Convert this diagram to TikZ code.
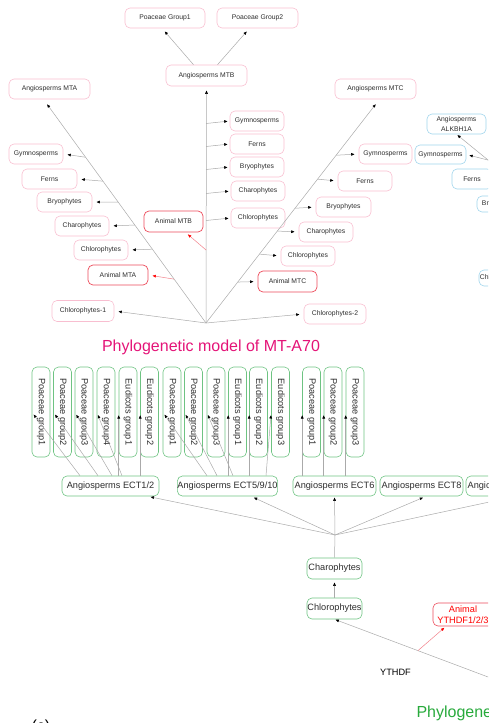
\documentclass[tikz,border=0pt]{standalone}
\usepackage{fontspec}
\setmainfont{Liberation Sans}
\usetikzlibrary{arrows.meta}
\usetikzlibrary{calc}
\definecolor{boxpink}{RGB}{248,190,208}
\definecolor{boxred}{RGB}{236,75,90}
\definecolor{boxblue}{RGB}{160,212,236}
\definecolor{boxgreen}{RGB}{110,195,130}
\definecolor{linegray}{RGB}{170,170,170}
\definecolor{textgray}{RGB}{45,45,45}
\definecolor{titlepink}{RGB}{228,20,120}
\definecolor{titlegreen}{RGB}{40,170,60}

\begin{document}
\begin{tikzpicture}[x=1pt, y=-1pt, line join=round,
  mtbox/.style={draw=boxpink, line width=0.6pt, rounded corners=5pt, minimum height=20pt, inner sep=0pt,
    text=textgray, font=\fontsize{6.8}{8}\selectfont},
  animbox/.style={mtbox, draw=boxred, line width=0.7pt},
  alkbox/.style={mtbox, draw=boxblue},
  ectbox/.style={draw=boxgreen, line width=0.6pt, rounded corners=5pt, minimum height=20pt, inner sep=0pt,
    text=textgray, font=\fontsize{9.2}{10.5}\selectfont},
  leafbox/.style={ectbox, rotate=-90, minimum width=90pt, minimum height=18pt},
  link/.style={draw=linegray, line width=0.5pt, shorten >=4pt,
    -{Latex[length=3.5pt,width=3pt,color=black]}},
  redlink/.style={link, draw=boxred!70, -{Latex[length=3.5pt,width=3pt,color=red]}},
  plain/.style={draw=linegray, line width=0.5pt},
  title/.style={font=\fontsize{16}{19}\selectfont}]
  \useasboundingbox (0,0) rectangle (488,723);
  \clip (0,0) rectangle (488,723);

  % MT-A70
  \node[mtbox, minimum width=80pt] (pg1) at (165,18) {Poaceae Group1};
  \node[mtbox, minimum width=81pt] (pg2) at (257.5,18) {Poaceae Group2};
  \node[mtbox, minimum width=81pt, minimum height=21pt] (mtb) at (206.5,75.5) {Angiosperms MTB};
  \node[mtbox, minimum width=81pt] (mta) at (49.5,89) {Angiosperms MTA};
  \node[mtbox, minimum width=81pt] (mtc) at (375.5,89) {Angiosperms MTC};

  \node[mtbox, minimum width=54pt] (gymA) at (36,154) {Gymnosperms};
  \node[mtbox, minimum width=55pt] (fernsA) at (49.5,179) {Ferns};
  \node[mtbox, minimum width=55pt] (bryoA) at (64.5,202) {Bryophytes};
  \node[mtbox, minimum width=54pt] (charoA) at (82,226) {Charophytes};
  \node[mtbox, minimum width=54pt] (chloA) at (101,250) {Chlorophytes};
  \node[animbox, minimum width=60pt] (animA) at (118,275) {Animal MTA};
  \node[mtbox, minimum width=62pt, minimum height=21pt] (chl1) at (83,311) {Chlorophytes-1};

  \node[mtbox, minimum width=54pt] (gymB) at (257,121) {Gymnosperms};
  \node[mtbox, minimum width=54pt] (fernsB) at (257,144) {Ferns};
  \node[mtbox, minimum width=54pt] (bryoB) at (257,167) {Bryophytes};
  \node[mtbox, minimum width=54pt] (charoB) at (258,191) {Charophytes};
  \node[mtbox, minimum width=54pt] (chloB) at (258,218) {Chlorophytes};
  \node[animbox, minimum width=59pt, minimum height=21pt] (animB) at (173.5,221.5) {Animal MTB};

  \node[mtbox, minimum width=53pt] (gymC) at (385.5,154) {Gymnosperms};
  \node[mtbox, minimum width=54pt] (fernsC) at (365,181) {Ferns};
  \node[mtbox, minimum width=55pt] (bryoC) at (343.5,207) {Bryophytes};
  \node[mtbox, minimum width=54pt] (charoC) at (326,232) {Charophytes};
  \node[mtbox, minimum width=54pt] (chloC) at (308,256) {Chlorophytes};
  \node[animbox, minimum width=59pt, minimum height=21pt] (animC) at (287.5,281.5) {Animal MTC};
  \node[mtbox, minimum width=62pt] (chl2) at (335,314) {Chlorophytes-2};

  \coordinate (mtroot) at (206,323);
  \coordinate (mtaend) at ([xshift=-6pt]mta.south);
  \coordinate (mtcend) at ([xshift=4pt]mtc.south);
  \draw[link] (mtroot) -- (mtb.south);
  \draw[link, shorten >=6pt] (mtroot) -- (mtaend);
  \draw[link, shorten >=6pt] (mtroot) -- (mtcend);
  \draw[link] ([xshift=-13pt]mtb.north) -- ([xshift=-3pt]pg1.south);
  \draw[link] ([xshift=11pt]mtb.north) -- ([xshift=-8pt]pg2.south);

  \draw[link] ($(mtroot)!0.741!(mtaend)$) -- (gymA.east);
  \draw[link] ($(mtroot)!0.634!(mtaend)$) -- (fernsA.east);
  \draw[link] ($(mtroot)!0.540!(mtaend)$) -- (bryoA.east);
  \draw[link] ($(mtroot)!0.438!(mtaend)$) -- (charoA.east);
  \draw[link] ($(mtroot)!0.330!(mtaend)$) -- (chloA.east);
  \draw[redlink] ($(mtroot)!0.196!(mtaend)$) -- (animA.east);
  \draw[link] (mtroot) -- (chl1.east);

  \draw[link, shorten >=2pt] ($(mtroot |- gymB.west)+(0,2.5)$) -- (gymB.west);
  \draw[link, shorten >=2pt] ($(mtroot |- fernsB.west)+(0,2.5)$) -- (fernsB.west);
  \draw[link, shorten >=2pt] ($(mtroot |- bryoB.west)+(0,2.5)$) -- (bryoB.west);
  \draw[link, shorten >=2pt] ($(mtroot |- charoB.west)+(0,2.5)$) -- (charoB.west);
  \draw[link, shorten >=2pt] ($(mtroot |- chloB.west)+(0,2.5)$) -- (chloB.west);
  \draw[redlink, shorten >=3pt] ($(mtroot)!0.308!(mtb.south)$) -- ([xshift=12pt]animB.south);

  \draw[link] ($(mtroot)!0.750!(mtcend)$) -- (gymC.west);
  \draw[link] ($(mtroot)!0.643!(mtcend)$) -- (fernsC.west);
  \draw[link] ($(mtroot)!0.513!(mtcend)$) -- (bryoC.west);
  \draw[link] ($(mtroot)!0.411!(mtcend)$) -- (charoC.west);
  \draw[link] ($(mtroot)!0.308!(mtcend)$) -- (chloC.west);
  \draw[link] ($(mtroot)!0.183!(mtcend)$) -- (animC.west);
  \draw[link] (mtroot) -- (chl2.west);

  % ALKBH1 (cut at the right edge)
  \node[alkbox, minimum width=59pt, align=center, font=\fontsize{6.8}{10}\selectfont] (alk) at (456.5,124) {Angiosperms\\ALKBH1A};
  \node[alkbox, minimum width=51pt, minimum height=19pt] (gymblue) at (440.5,154.5) {Gymnosperms};
  \node[alkbox, minimum width=40pt] (fernsblue) at (472,179) {Ferns};
  \node[alkbox, minimum width=44pt, minimum height=16pt] (bryoblue) at (499,204) {Bryophytes};
  \node[alkbox, minimum width=42pt, minimum height=16pt] (chloblue) at (500,278) {Chlorophytes};
  \coordinate (alkroot) at (580,235);
  \draw[link, shorten >=1pt] (alkroot) -- (alk.south);
  \draw[link, shorten >=3pt] ($(alkroot)!0.744!(alk.south)$) -- (gymblue.east);

  \node[title, text=titlepink] (mttitle) at (211,347.5) {Phylogenetic model of MT-A70};

  % YTHDF
  \node[leafbox] (l1) at (41,412) {Poaceae group1};
  \node[leafbox] (l2) at (62.5,412) {Poaceae group2};
  \node[leafbox] (l3) at (84,412) {Poaceae group3};
  \node[leafbox] (l4) at (106,412) {Poaceae group4};
  \node[leafbox] (l5) at (128,412) {Eudicots group1};
  \node[leafbox] (l6) at (149.5,412) {Eudicots group2};
  \node[leafbox] (l7) at (172,412) {Poaceae group1};
  \node[leafbox] (l8) at (193.5,412) {Poaceae group2};
  \node[leafbox] (l9) at (216,412) {Poaceae group3};
  \node[leafbox] (l10) at (237.5,412) {Eudicots group1};
  \node[leafbox] (l11) at (258.5,412) {Eudicots group2};
  \node[leafbox] (l12) at (280.5,412) {Eudicots group3};
  \node[leafbox] (l13) at (311.5,412) {Poaceae group1};
  \node[leafbox] (l14) at (333,412) {Poaceae group2};
  \node[leafbox] (l15) at (355,412) {Poaceae group3};

  \node[ectbox, minimum width=97pt] (ect12) at (110.5,486) {Angiosperms ECT1/2};
  \node[ectbox, minimum width=97pt] (ect5910) at (227.5,486) {Angiosperms ECT5/9/10};
  \node[ectbox, minimum width=83pt] (ect6) at (334.5,486) {Angiosperms ECT6};
  \node[ectbox, minimum width=83pt] (ect8) at (421.5,486) {Angiosperms ECT8};
  \node[ectbox, minimum width=83pt] (ectx) at (507.5,486) {Angiosperms ECT2};

  \draw[link, shorten >=3pt] ([xshift=-30.5pt]ect12.north) -- (l1.south);
  \draw[link, shorten >=3pt] ([xshift=-12.5pt]ect12.north) -- (l2.south);
  \draw[link, shorten >=3pt] ([xshift=1.5pt]ect12.north) -- (l3.south);
  \draw[link, shorten >=3pt] ([xshift=11.5pt]ect12.north) -- (l4.south);
  \draw[link, shorten >=3pt] (l5.south |- ect12.north) -- (l5.south);
  \draw[link, shorten >=3pt] (l6.south |- ect12.north) -- (l6.south);
  \draw[link, shorten >=3pt] ([xshift=-20.5pt]ect5910.north) -- (l7.south);
  \draw[link, shorten >=3pt] ([xshift=-10.5pt]ect5910.north) -- (l8.south);
  \draw[link, shorten >=3pt] ([xshift=5.5pt]ect5910.north) -- (l9.south);
  \draw[link, shorten >=3pt] (l10.south |- ect5910.north) -- (l10.south);
  \draw[link, shorten >=3pt] (l11.south |- ect5910.north) -- (l11.south);
  \draw[link, shorten >=3pt] ([xshift=38.5pt]ect5910.north) -- (l12.south);
  \draw[link, shorten >=3pt] (l13.south |- ect6.north) -- (l13.south);
  \draw[link, shorten >=3pt] (l14.south |- ect6.north) -- (l14.south);
  \draw[link, shorten >=3pt] (l15.south |- ect6.north) -- (l15.south);

  \node[ectbox, minimum width=55pt, minimum height=21pt] (charoG) at (334.5,568.5) {Charophytes};
  \node[ectbox, minimum width=55pt, minimum height=21pt] (chloG) at (334.5,608.5) {Chlorophytes};
  \node[ectbox, draw=boxred, text=red, minimum width=60pt, minimum height=23pt, align=center] (animY) at (463,614.5) {Animal\\YTHDF1/2/3};
  \node[font=\fontsize{9.2}{11}\selectfont] (ythlabel) at (395.5,672) {YTHDF};

  \coordinate (ecthub) at (335,535);
  \draw[plain] (charoG.north) -- (ecthub);
  \draw[link, shorten >=3pt] (ecthub) -- ([xshift=37pt]ect12.south);
  \draw[link, shorten >=3pt] (ecthub) -- ([xshift=23.5pt]ect5910.south);
  \draw[link, shorten >=1pt] (ecthub) -- (ect6.south);
  \draw[link, shorten >=3pt] (ecthub) -- ([xshift=4.5pt]ect8.south);
  \draw[link, shorten >=3pt] (ecthub) -- ([xshift=8.5pt]ectx.south);
  \draw[link, shorten >=3pt] (chloG.north) -- (charoG.south);

  \coordinate (ythroot) at (560,704);
  \draw[link, shorten >=1pt] (ythroot) -- (chloG.south);
  \draw[redlink, shorten >=2pt] ($(ythroot)!0.63!(chloG.south)$) -- ([xshift=-17pt]animY.south);

  \node[title, text=titlegreen, anchor=base west] (ythtitle) at (413,717) {Phylogenetic model of YTHDF};
  \node[title, anchor=base west] (panelc) at (28,731) {(c)};
\end{tikzpicture}
\end{document}
